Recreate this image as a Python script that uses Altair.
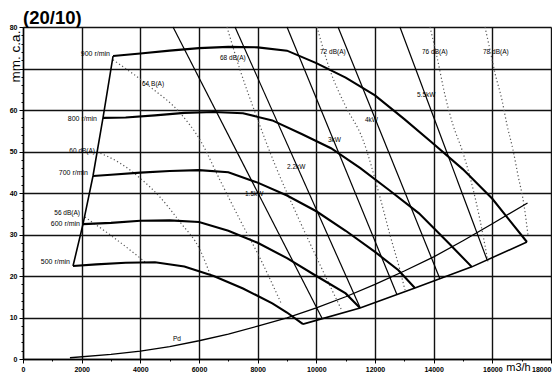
import altair as alt
import pandas as pd

FONT = "Liberation Sans"

# ---------------- fan curves (x = m3/h, y = mm c.a.) ----------------
rpm_names = ["900 r/min", "800 r/min", "700 r/min", "600 r/min", "500 r/min"]
q900 = [3070, 4000, 5000, 6000, 7000, 8000, 9000, 10000, 11000, 12000, 13000, 14000, 15000, 16000, 17180]
p900 = [73.0, 73.6, 74.3, 74.9, 75.2, 75.1, 74.3, 71.3, 67.8, 63.5, 57.8, 51.8, 45.7, 38.6, 28.2]
q800 = [2727, 3500, 4500, 5500, 6500, 7500, 8500, 9500, 10500, 11500, 12500, 13500, 14500, 15300]
p800 = [58.1, 58.2, 58.7, 59.3, 59.5, 59.2, 57.5, 54.2, 50.8, 46.0, 40.6, 35.1, 28.0, 22.2]
q700 = [2386, 3000, 4000, 5000, 6000, 7000, 8000, 9000, 10000, 11000, 12000, 12800, 13360]
p700 = [44.1, 44.4, 44.9, 45.3, 45.5, 45.0, 42.5, 39.4, 35.6, 30.9, 25.8, 21.4, 17.1]
q600 = [2045, 3000, 4000, 5000, 6000, 7000, 8000, 9000, 10000, 11000, 11490]
p600 = [32.5, 32.8, 33.3, 33.4, 33.0, 30.9, 28.0, 24.3, 20.0, 15.8, 12.3]
q500 = [1705, 2500, 3500, 4500, 5500, 6500, 7500, 8500, 9000, 9545]
p500 = [22.4, 22.8, 23.2, 23.3, 22.3, 20.0, 17.0, 13.4, 11.2, 8.4]

# boundaries of the working field
left_q = [1705, 2045, 2386, 2727, 3070]
left_p = [22.4, 32.5, 44.1, 58.1, 73.0]
right_q = [9545, 11490, 13360, 15300, 17180]
right_p = [8.4, 12.3, 17.1, 22.2, 28.2]

# dynamic pressure Pd
pd_q = [1600, 3000, 4000, 5000, 6000, 7000, 8000, 9000, 10000, 11000, 12000, 13000, 14000, 15000, 16000, 17200]
pd_p = [0.3, 1.1, 1.9, 3.0, 4.4, 6.0, 7.9, 9.9, 12.3, 15.0, 18.0, 21.2, 24.6, 28.5, 32.6, 37.6]

# motor power lines
kw_names = ["1.5kW", "2.2kW", "3kW", "4kW", "5.5kW"]
kw_q_top = [5114, 7227, 9000, 10740, 12850]
kw_p_top = [80, 80, 80, 80, 80]
kw_q_end = [10190, 11490, 12750, 14215, 15820]
kw_p_end = [9.9, 12.4, 15.5, 19.3, 23.9]

# noise lines dB(A)
db_names = ["56", "60", "64", "68", "72", "76", "78"]
db_q = [
    [2110, 3070, 4160],
    [2523, 3307, 3989, 4670, 5352, 6034, 6409],
    [3068, 4330, 5352, 6034, 6716, 7398, 8080, 8795],
    [6954, 7398, 7943, 8591, 9341, 10125, 10875],
    [10022, 10466, 10977, 11591, 12170, 12511, 12852, 13022],
    [13875, 14113, 14386, 14659, 14966, 15238, 15579, 15852],
    [15750, 15920, 16090, 16329, 16500, 16704, 16874, 17079, 17215],
]
db_p = [
    [34.2, 29.4, 23.4],
    [49.9, 47.2, 43.6, 39.0, 33.0, 26.3, 19.8],
    [72.1, 65.6, 59.3, 52.8, 43.1, 33.5, 24.3, 13.5],
    [80, 69.7, 58.8, 46.8, 34.7, 22.7, 11.6],
    [80, 69.6, 61.2, 52.8, 39.0, 29.9, 21.4, 16.6],
    [80, 72.8, 63.6, 56.4, 50.4, 43.9, 33.5, 23.4],
    [80, 74.5, 68.9, 62.4, 56.4, 50.4, 44.3, 37.1, 29.9],
]

# labels
title_text = ["(20/10)"]
rpm_lab_q = [2966, 2523, 2216, 1943, 1602]
rpm_lab_p = [73.5, 57.8, 44.8, 32.5, 23.4]
left_lab_text = ["56 dB(A)", "60 dB(A)"]
left_lab_q = [1943, 2455]
left_lab_p = [35.2, 50.1]
lab_text = ["64 B(A)", "68 dB(A)", "72 dB(A)", "76 dB(A)", "78 dB(A)",
            "5.5kW", "4kW", "3kW", "2.2kW", "1.5kW", "Pd"]
lab_q = [4057, 6716, 10125, 13602, 15682, 13432, 11659, 10398, 9000, 7568, 5114]
lab_p = [66.3, 72.5, 74.0, 74.0, 74.0, 63.6, 57.6, 52.8, 46.3, 39.8, 4.8]

# ---------------- tables ----------------
def series_df(names, qs, ps):
    rows = []
    for n, q, p in zip(names, qs, ps):
        for i, (a, b) in enumerate(zip(q, p)):
            rows.append({"series": n, "i": i, "x": a, "y": b})
    return pd.DataFrame(rows)

fan_df = series_df(rpm_names, [q900, q800, q700, q600, q500], [p900, p800, p700, p600, p500])
bound_df = series_df(["left", "right"], [left_q, right_q], [left_p, right_p])
pd_df = series_df(["Pd"], [pd_q], [pd_p])
kw_df = series_df(kw_names,
                  [[a, b] for a, b in zip(kw_q_top, kw_q_end)],
                  [[a, b] for a, b in zip(kw_p_top, kw_p_end)])
db_df = series_df(db_names, db_q, db_p)
rpm_lab_df = pd.DataFrame({"label": rpm_names, "x": rpm_lab_q, "y": rpm_lab_p})
left_lab_df = pd.DataFrame({"label": left_lab_text, "x": left_lab_q, "y": left_lab_p})
lab_df = pd.DataFrame({"label": lab_text, "x": lab_q, "y": lab_p})
title_df = pd.DataFrame({"t": title_text})

# ---------------- scales / axes ----------------
xs = alt.Scale(domain=[0, 18000], nice=False, zero=False)
ys = alt.Scale(domain=[0, 80], nice=False, zero=False)

x_axis = alt.Axis(
    values=list(range(0, 18001, 1000)),
    format="d",
    labelExpr="datum.value % 2000 === 0 ? datum.label : ''",
    labelAlign={"condition": {"test": "datum.value === 18000", "value": "right"}, "value": "center"},
    grid=True,
    gridColor="#111111",
    gridWidth=1.4,
    gridOpacity={"condition": {"test": "datum.value % 2000 === 0", "value": 1}, "value": 0},
    tickColor="black",
    tickSize={"condition": {"test": "datum.value % 2000 === 0", "value": 4}, "value": 2},
    domainColor="black",
    domainWidth=1.4,
    labelFont=FONT, labelFontSize=7, labelFontWeight="bold", labelColor="black",
    labelPadding=2, labelFlush=False,
    title="m3/h", titleFont=FONT, titleFontSize=11, titleFontWeight="normal",
    titleColor="black", titleX=495, titleY=8, titleAlign="center", titleBaseline="middle",
)
y_axis = alt.Axis(
    values=list(range(0, 81, 2)),
    format="d",
    labelExpr="(datum.value % 10 === 0 && datum.value !== 70) ? datum.label : ''",
    grid=True,
    gridColor="#111111",
    gridWidth=1.4,
    gridOpacity={"condition": {"test": "datum.value % 10 === 0", "value": 1}, "value": 0},
    tickColor="black",
    tickSize={"condition": {"test": "datum.value % 10 === 0", "value": 4}, "value": 2},
    domainColor="black",
    domainWidth=1.4,
    labelFont=FONT, labelFontSize=7, labelFontWeight="bold", labelColor="black",
    labelPadding=2,
    title="mm. c.a.", titleFont=FONT, titleFontSize=13.5, titleFontWeight="normal",
    titleColor="black", titleAngle=270, titleX=-8, titleY=29,
    titleAlign="center", titleBaseline="middle",
)

X = alt.X("x:Q", scale=xs, axis=x_axis)
Y = alt.Y("y:Q", scale=ys, axis=y_axis)

fans = alt.Chart(fan_df).mark_line(color="black", strokeWidth=2.1).encode(
    x=X, y=Y, detail="series:N", order="i:Q")
bounds = alt.Chart(bound_df).mark_line(color="black", strokeWidth=1.6).encode(
    x=X, y=Y, detail="series:N", order="i:Q")
pdl = alt.Chart(pd_df).mark_line(color="black", strokeWidth=1.3).encode(
    x=X, y=Y, detail="series:N", order="i:Q")
kw = alt.Chart(kw_df).mark_line(color="black", strokeWidth=1.2).encode(
    x=X, y=Y, detail="series:N", order="i:Q")
db = alt.Chart(db_df).mark_line(color="#555555", strokeWidth=1.2, strokeDash=[1.2, 2.5],
                                interpolate="monotone").encode(
    x=X, y=Y, detail="series:N", order="i:Q")

rpm_text = alt.Chart(rpm_lab_df).mark_text(
    align="right", baseline="middle", font=FONT, fontSize=7, color="black").encode(
    x=X, y=Y, text="label:N")
left_text = alt.Chart(left_lab_df).mark_text(
    align="right", baseline="middle", font=FONT, fontSize=6.5, color="black").encode(
    x=X, y=Y, text="label:N")
other_text = alt.Chart(lab_df).mark_text(
    align="left", baseline="middle", font=FONT, fontSize=6.5, color="black").encode(
    x=X, y=Y, text="label:N")
title_mark = alt.Chart(title_df).mark_text(
    align="left", baseline="alphabetic", font=FONT, fontSize=18.5, fontWeight="bold",
    color="black").encode(x=alt.value(0), y=alt.value(-3), text="t:N")

chart = alt.layer(db, kw, pdl, bounds, fans, rpm_text, left_text, other_text, title_mark).properties(
    width=528,
    height=332,
    autosize=alt.AutoSizeParams(type="none"),
    padding={"left": 15, "top": 19, "right": 1, "bottom": 13},
).configure_view(stroke=None).configure(background="white")

chart.save("out.html", embed_options={"renderer": "svg", "actions": False})
